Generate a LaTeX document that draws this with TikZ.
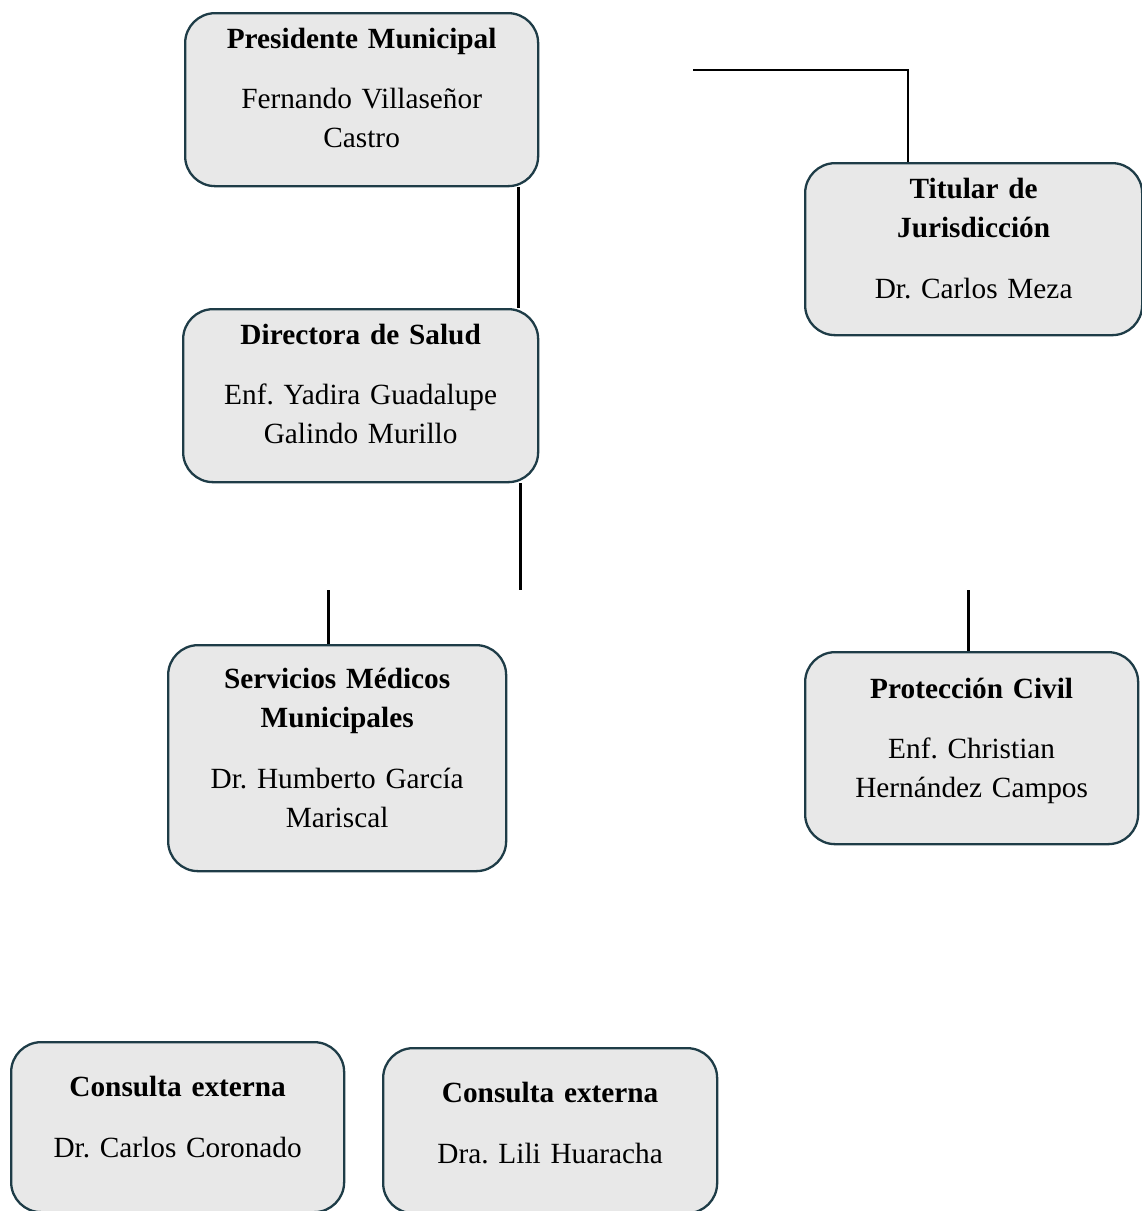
\documentclass[tikz,border=0pt]{standalone}
\usepackage{fontspec}
\setmainfont{Liberation Serif}
\frenchspacing
\definecolor{borde}{HTML}{1E3C47}
\definecolor{fondo}{HTML}{E8E8E8}
\tikzset{
  cargo/.style={draw=borde, fill=fondo, line width=2.3pt, rounded corners=30pt,
    inner sep=0pt, anchor=north west, align=center,
    font=\fontsize{29.3}{39}\selectfont},
  linea/.style={line width=3pt, black},
  lineafina/.style={line width=2pt, black}
}
\begin{document}
\begin{tikzpicture}[x=1pt,y=-1pt]
        \useasboundingbox (0,0) rectangle (1142,1211);
        \clip (0,0) rectangle (1142,1211);
        \node[cargo, text width=353pt, text height=35pt, text depth=138pt] (pres) at (184,12) {\textbf{Presidente Municipal}\\[21pt]Fernando Villaseñor\\Castro};
        \node[cargo, text width=337pt, text height=35pt, text depth=137pt] (tit) at (804,162) {\textbf{Titular de}\\\textbf{Jurisdicción}\\[22pt]Dr. Carlos Meza};
        \node[cargo, text width=355pt, text height=35pt, text depth=138pt] (dir) at (182,308) {\textbf{Directora de Salud}\\[21pt]Enf. Yadira Guadalupe\\Galindo Murillo};
        \node[cargo, text width=338pt, text height=43pt, text depth=183pt] (serv) at (167,644) {\textbf{Servicios Médicos}\\\textbf{Municipales}\\[22pt]Dr. Humberto García\\Mariscal};
        \node[cargo, text width=333pt, text height=46pt, text depth=146pt] (prot) at (804,651) {\textbf{Protección Civil}\\[21pt]Enf. Christian\\Hernández Campos};
        \node[cargo, text width=333pt, text height=54pt, text depth=116pt] (cons1) at (10,1041) {\textbf{Consulta externa}\\[22pt]Dr. Carlos Coronado};
        \node[cargo, text width=334pt, text height=54pt, text depth=111pt] (cons2) at (382,1047) {\textbf{Consulta externa}\\[22pt]Dra. Lili Huaracha};
        \coordinate (tfree) at (693,70);
        \coordinate (dfree) at (520,590);
        \coordinate (sfree) at (328,590);
        \coordinate (pfree) at (968,590);
        \draw[linea] ([xshift=-21pt]pres.south east) -- ([xshift=-21pt]pres.south east |- dir.north);
        \draw[lineafina] (tfree) -| ([xshift=104pt]tit.north west);
        \draw[linea] (dir.south -| dfree) -- (dfree);
        \draw[linea] (sfree) -- (sfree |- serv.north);
        \draw[linea] (pfree) -- (pfree |- prot.north);
      \end{tikzpicture}
\end{document}
